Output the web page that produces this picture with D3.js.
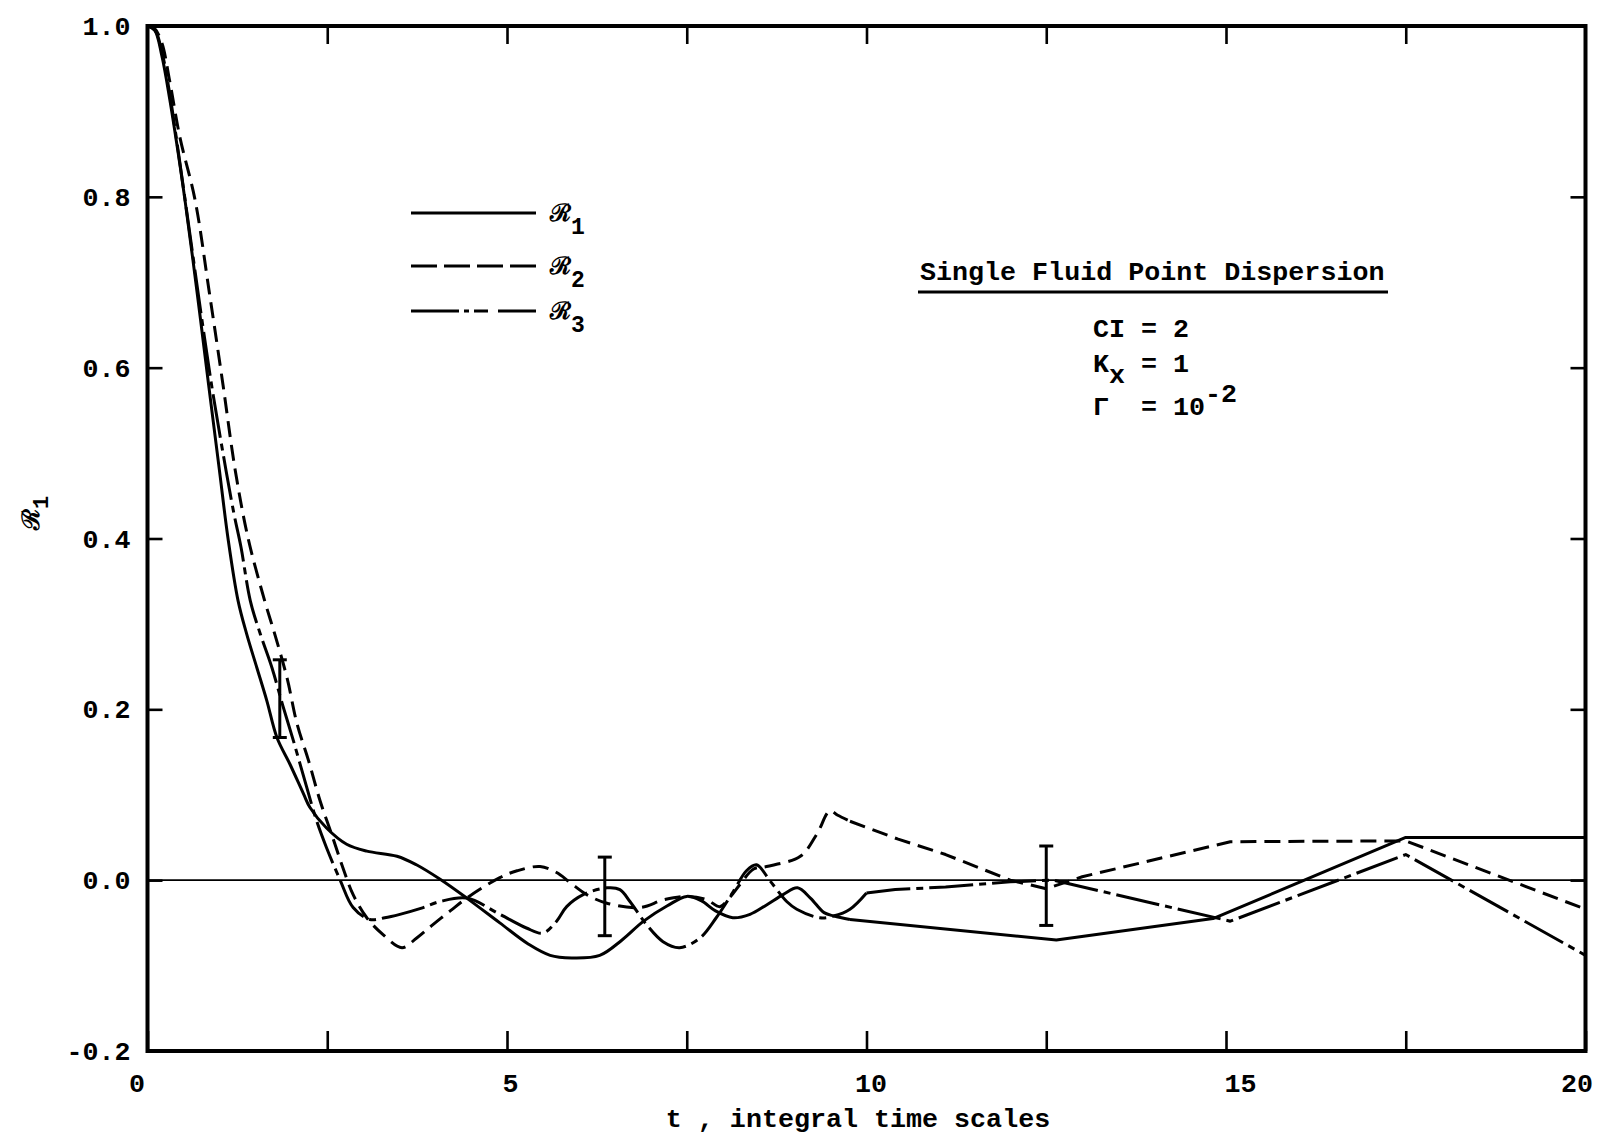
<!DOCTYPE html>
<html><head><meta charset="utf-8">
<script src="https://cdn.jsdelivr.net/npm/d3@7"></script>
<style>
body{margin:0;background:#fff}
svg{display:block}
text{font-family:'Liberation Mono','DejaVu Sans Mono',monospace;fill:#000}
</style>
</head><body>
<svg id="chart" width="1608" height="1137"></svg>
<script>
// ---------- data ----------
const xTicks = [0, 2.5, 5, 7.5, 10, 12.5, 15, 17.5, 20];
const xTickLabels = ["0", "", "5", "", "10", "", "15", "", "20"];
const yTicks = [-0.2, 0, 0.2, 0.4, 0.6, 0.8, 1.0];
const yTickLabels = ["-0.2", "0.0", "0.2", "0.4", "0.6", "0.8", "1.0"];
const seriesNames = ["1", "2", "3"];           // subscripts of ℛ
const xTitle = "t , integral time scales";
const boxTitle = "Single Fluid Point Dispersion";

// R1 (solid)
const r1T = [0, 0.1, 0.2, 0.31, 0.42, 0.52, 0.69, 0.85, 1.0, 1.12, 1.26, 1.38, 1.52, 1.66, 1.8, 1.98, 2.17, 2.26, 2.49, 2.77, 3.05, 3.47, 3.74, 4.07, 4.44, 4.9, 5.3, 5.6, 5.9, 6.29, 6.6, 6.9, 7.23, 7.5, 7.7, 7.9, 8.14, 8.38, 8.61, 8.84, 9.04, 9.22, 9.41, 9.55, 9.77];
const r1V = [1.0, 0.995, 0.965, 0.914, 0.855, 0.797, 0.688, 0.58, 0.48, 0.40, 0.327, 0.288, 0.249, 0.21, 0.167, 0.136, 0.101, 0.085, 0.061, 0.042, 0.034, 0.028, 0.018, 0.001, -0.021, -0.05, -0.075, -0.088, -0.091, -0.088, -0.07, -0.048, -0.030, -0.019, -0.024, -0.036, -0.044, -0.040, -0.029, -0.017, -0.009, -0.021, -0.038, -0.042, -0.046];
const r1TailT = [9.77, 12.64, 14.82, 17.5, 20];
const r1TailV = [-0.046, -0.07, -0.045, 0.05, 0.05];

// R2 (dashed)
const r2T = [0, 0.1, 0.2, 0.31, 0.45, 0.66, 0.86, 1.05, 1.22, 1.4, 1.63, 1.77, 1.94, 2.08, 2.24, 2.40, 2.56, 2.72, 2.86, 3.05, 3.28, 3.54, 3.74, 3.97, 4.21, 4.44, 4.9, 5.14, 5.46, 5.69, 5.88, 6.11, 6.39, 6.85, 7.18, 7.5, 7.78, 7.96, 8.1, 8.24, 8.43, 8.61, 9.08, 9.31, 9.49, 9.6, 9.77];
const r2V = [1.0, 0.997, 0.98, 0.935, 0.87, 0.797, 0.688, 0.58, 0.48, 0.40, 0.327, 0.288, 0.237, 0.183, 0.140, 0.093, 0.054, 0.014, -0.017, -0.044, -0.064, -0.079, -0.068, -0.052, -0.036, -0.021, 0.003, 0.011, 0.016, 0.009, -0.003, -0.017, -0.027, -0.032, -0.023, -0.019, -0.023, -0.031, -0.02, -0.005, 0.013, 0.016, 0.028, 0.054, 0.081, 0.076, 0.069];
const r2TailT = [9.77, 10.44, 11.1, 12.0, 12.5, 13.0, 15.06, 17.5, 20];
const r2TailV = [0.069, 0.048, 0.030, 0.0, -0.01, 0.004, 0.045, 0.046, -0.034];

// R3 (dash-dot)
const r3T = [0, 0.1, 0.2, 0.31, 0.45, 0.6, 0.75, 0.9, 1.05, 1.2, 1.3, 1.43, 1.57, 1.73, 1.88, 2.03, 2.21, 2.35, 2.49, 2.68, 2.86, 3.09, 3.3, 3.51, 3.8, 4.07, 4.44, 4.9, 5.27, 5.5, 5.69, 5.83, 6.06, 6.39, 6.57, 6.71, 6.94, 7.17, 7.4, 7.68, 7.91, 8.15, 8.33, 8.47, 8.66, 8.89, 9.03, 9.35, 9.54, 9.77, 10.0];
const r3V = [1.0, 0.996, 0.97, 0.92, 0.84, 0.75, 0.66, 0.575, 0.50, 0.43, 0.39, 0.327, 0.288, 0.249, 0.205, 0.163, 0.11, 0.07, 0.038, 0.0, -0.032, -0.046, -0.044, -0.040, -0.033, -0.025, -0.021, -0.040, -0.056, -0.062, -0.048, -0.031, -0.017, -0.009, -0.011, -0.025, -0.052, -0.072, -0.079, -0.068, -0.044, -0.013, 0.011, 0.018, -0.001, -0.025, -0.034, -0.044, -0.042, -0.034, -0.015];
const r3TailT = [10.0, 10.4, 11.1, 12.0, 12.6, 15.06, 17.5, 20];
const r3TailV = [-0.015, -0.011, -0.008, -0.002, 0.0, -0.048, 0.03, -0.088];

// error bars
const errT = [1.84, 6.36, 12.5];
const errLow = [0.167, -0.065, -0.053];
const errHigh = [0.258, 0.027, 0.040];

// ---------- drawing ----------
const svg = d3.select("#chart");
const L = 147.5, R = 1585.5, T = 26, B = 1051;
const x = d3.scaleLinear().domain([0, 20]).range([L, R]);
const y = d3.scaleLinear().domain([-0.2, 1.0]).range([B, T]);
const FS = 26.7;
const xLabelShift = [-11, 0, 3, 0, 4, 0, 14, 0, -9];

// zero line
svg.append("line").attr("x1", x(0)).attr("x2", x(20)).attr("y1", y(0)).attr("y2", y(0))
  .attr("stroke", "#000").attr("stroke-width", 1.8);

// axes (ticks inward)
function styleAxis(g) {
  g.select(".domain").remove();
  g.selectAll(".tick line").attr("stroke", "#000").attr("stroke-width", 2.6);
  g.selectAll(".tick text").style("font-size", FS + "px").style("font-weight", "bold")
    .style("font-family", "'Liberation Mono','DejaVu Sans Mono',monospace");
}
svg.append("g").attr("transform", `translate(0,${B})`)
  .call(d3.axisBottom(x).tickValues(xTicks).tickSizeInner(-20).tickSizeOuter(0)
    .tickPadding(22).tickFormat((d, i) => xTickLabels[i]))
  .call(styleAxis)
  .call(g => g.selectAll(".tick text").attr("dx", (d, i) => xLabelShift[i]));
svg.append("g").attr("transform", `translate(0,${T})`)
  .call(d3.axisTop(x).tickValues(xTicks.slice(1, -1)).tickSizeInner(-18).tickSizeOuter(0).tickFormat(""))
  .call(styleAxis);
svg.append("g").attr("transform", `translate(${L},0)`)
  .call(d3.axisLeft(y).tickValues(yTicks).tickSizeInner(-15).tickSizeOuter(0)
    .tickPadding(17).tickFormat((d, i) => yTickLabels[i]))
  .call(styleAxis);
svg.append("g").attr("transform", `translate(${R},0)`)
  .call(d3.axisRight(y).tickValues(yTicks.slice(1, -1)).tickSizeInner(-15).tickSizeOuter(0).tickFormat(""))
  .call(styleAxis);

// frame
svg.append("rect").attr("x", L).attr("y", T).attr("width", R - L).attr("height", B - T)
  .attr("fill", "none").attr("stroke", "#000").attr("stroke-width", 4);

// curves
const smooth = d3.line().x(d => x(d[0])).y(d => y(d[1])).curve(d3.curveCatmullRom.alpha(0.5));
const straight = d3.line().x(d => x(d[0])).y(d => y(d[1])).curve(d3.curveLinear);
const dashes = ["none", "16,8", "44,6,7,6"];
const series = [
  [r1T, r1V, r1TailT, r1TailV],
  [r2T, r2V, r2TailT, r2TailV],
  [r3T, r3V, r3TailT, r3TailV]
];
const plot = svg.append("g");
series.forEach((s, i) => {
  const a = s[0].map((t, j) => [t, s[1][j]]);
  const b = s[2].map((t, j) => [t, s[3][j]]);
  plot.append("path").attr("d", smooth(a)).attr("fill", "none").attr("stroke", "#000")
    .attr("stroke-width", 3).attr("stroke-dasharray", dashes[i]).attr("stroke-linejoin", "round");
  plot.append("path").attr("d", straight(b)).attr("fill", "none").attr("stroke", "#000")
    .attr("stroke-width", 3).attr("stroke-dasharray", dashes[i]).attr("stroke-linejoin", "round");
});

// error bars
const eb = svg.append("g").attr("stroke", "#000").attr("stroke-width", 3);
errT.forEach((t, i) => {
  eb.append("line").attr("x1", x(t)).attr("x2", x(t)).attr("y1", y(errLow[i])).attr("y2", y(errHigh[i]));
  [errLow[i], errHigh[i]].forEach(v => eb.append("line")
    .attr("x1", x(t) - 7).attr("x2", x(t) + 7).attr("y1", y(v)).attr("y2", y(v)));
});

// y title
const yt = svg.append("text").attr("transform", "translate(39,530) rotate(-90)")
  .style("font-size", "24px").style("font-weight", "bold");
yt.append("tspan").text("ℛ");
yt.append("tspan").attr("dy", 9).style("font-size", "22px").text("1");

// x title
svg.append("text").attr("x", 858).attr("y", 1127).attr("text-anchor", "middle")
  .style("font-size", FS + "px").style("font-weight", "bold").text(xTitle);

// legend
const legDash = ["none", "26,7", "48,5,5,5,14,10"];
seriesNames.forEach((n, i) => {
  const ly = [213, 266, 311][i];
  svg.append("line").attr("x1", 411).attr("x2", 536).attr("y1", ly).attr("y2", ly)
    .attr("stroke", "#000").attr("stroke-width", 3).attr("stroke-dasharray", legDash[i]);
  const t = svg.append("text").attr("x", 550).attr("y", ly + 8)
    .style("font-size", "24px").style("font-weight", "bold");
  t.append("tspan").text("ℛ");
  t.append("tspan").attr("dy", 13).style("font-size", "23px").text(n);
});

// annotation box
svg.append("text").attr("x", 920).attr("y", 280).style("font-size", FS + "px")
  .style("font-weight", "bold").text(boxTitle);
svg.append("line").attr("x1", 918).attr("x2", 1388).attr("y1", 292).attr("y2", 292)
  .attr("stroke", "#000").attr("stroke-width", 3);
svg.append("text").attr("x", 1093).attr("y", 337).style("font-size", FS + "px")
  .style("font-weight", "bold").style("white-space", "pre").text("CI = 2");
const kx = svg.append("text").attr("x", 1093).attr("y", 372).style("font-size", FS + "px")
  .style("font-weight", "bold").style("white-space", "pre");
kx.append("tspan").text("K");
kx.append("tspan").attr("dy", 11).text("x");
kx.append("tspan").attr("dy", -11).text(" = 1");
const gm = svg.append("text").attr("x", 1093).attr("y", 415).style("font-size", FS + "px")
  .style("font-weight", "bold").style("white-space", "pre");
gm.append("tspan").text("Γ  = 10");
gm.append("tspan").attr("dy", -13).text("-2");
</script>
</body></html>
